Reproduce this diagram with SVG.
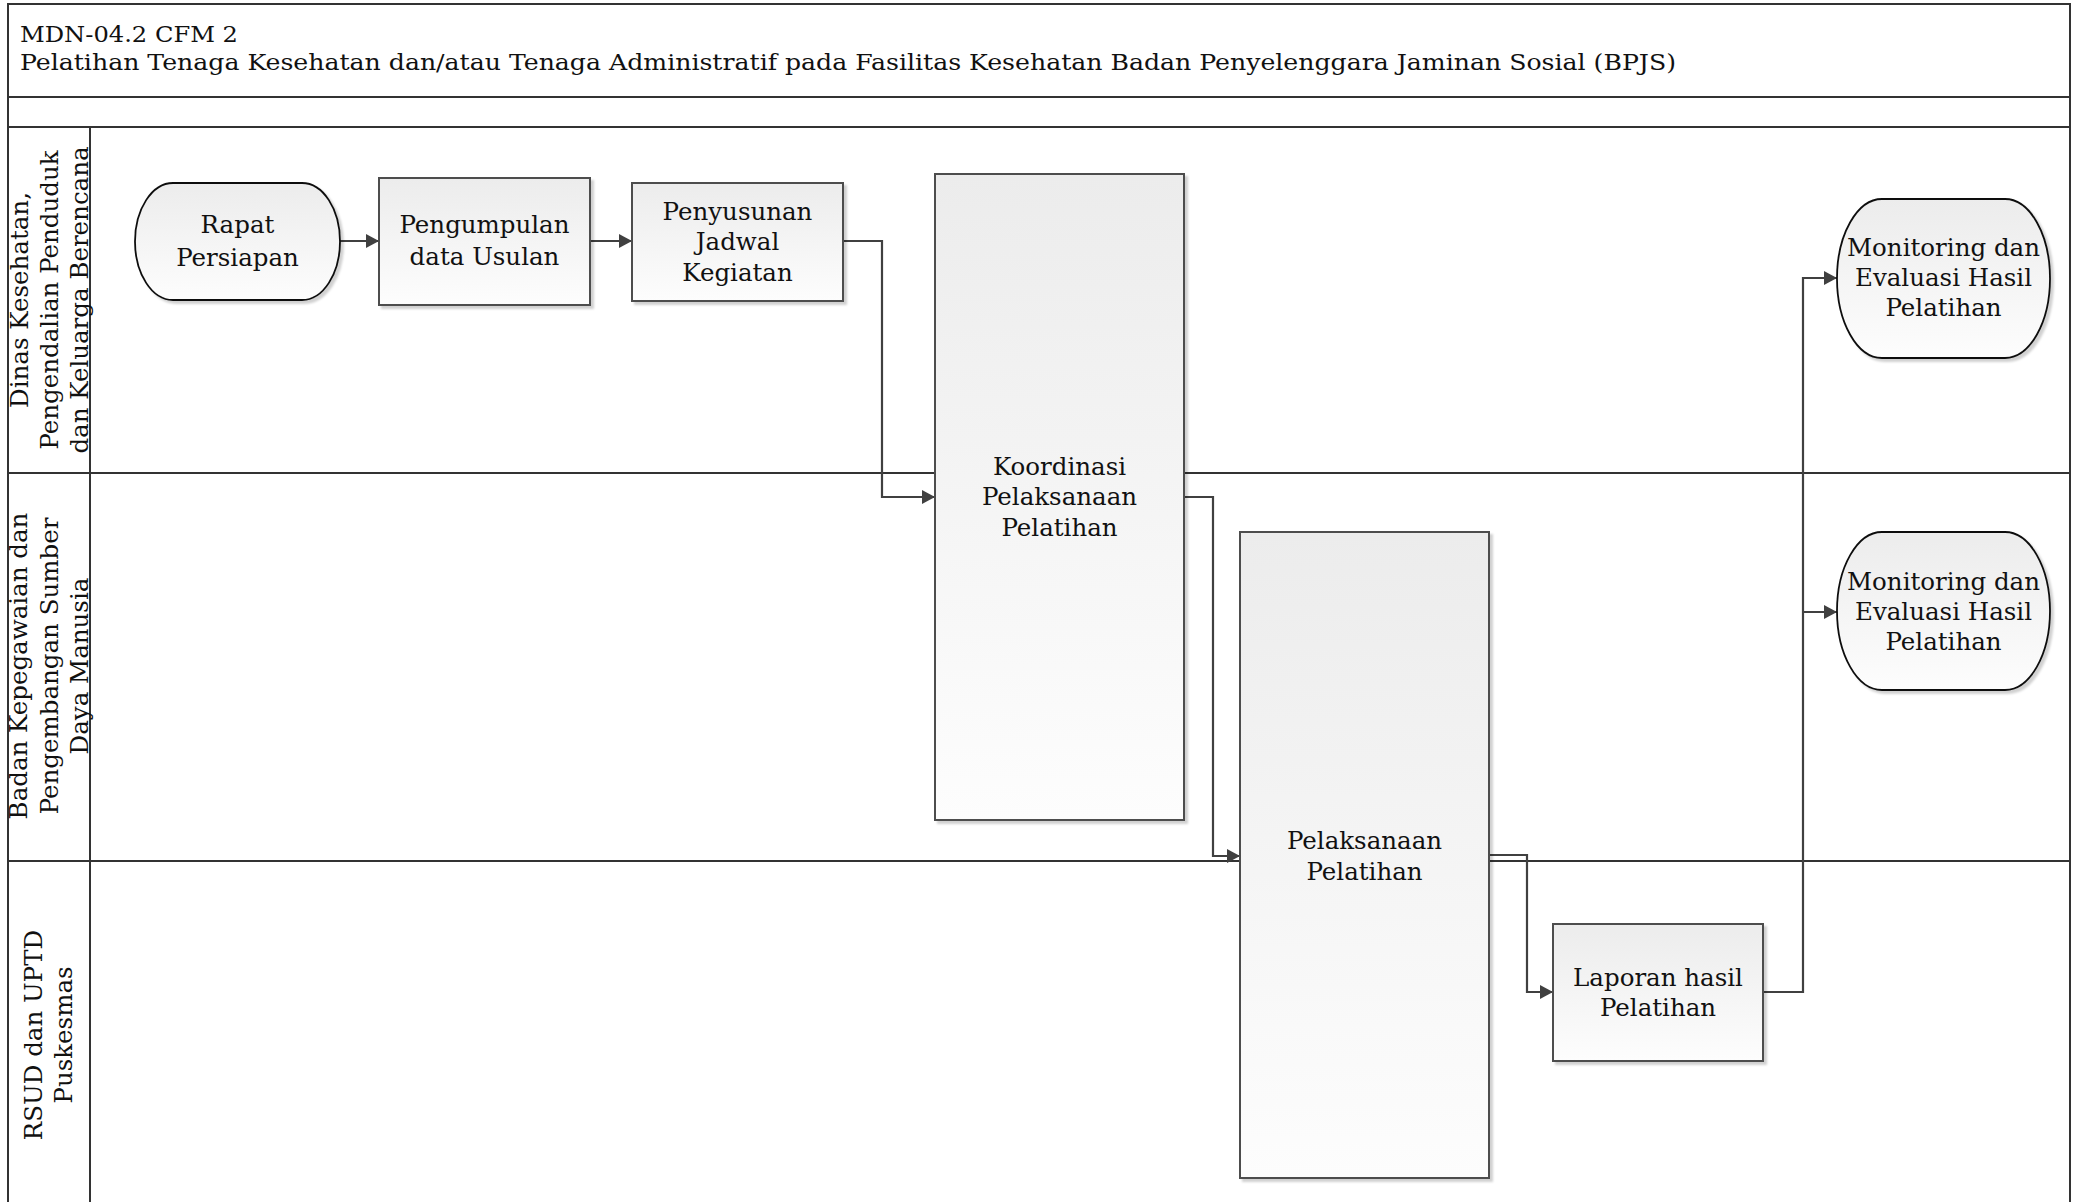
<svg xmlns="http://www.w3.org/2000/svg" width="2079" height="1202" viewBox="0 0 2079 1202">
<style>
  .t { font-family: "DejaVu Serif", "Liberation Serif", serif; font-size: 24.5px; fill: #111; }
  .title { font-family: "DejaVu Serif", "Liberation Serif", serif; font-size: 23px; fill: #111; }
  .ln { stroke: #333; stroke-width: 2; fill: none; }
  .box { fill: url(#gNode); stroke: #4d4d4d; stroke-width: 2; filter: url(#sh); }
  .term { fill: url(#gNode); stroke: #111; stroke-width: 1.8; filter: url(#sh); }
  .con { stroke: #404040; stroke-width: 2.2; fill: none; marker-end: url(#arr); }
</style>
<defs>
  <linearGradient id="gNode" x1="0" y1="0" x2="0" y2="1">
    <stop offset="0" stop-color="#ececec"/>
    <stop offset="1" stop-color="#fdfdfd"/>
  </linearGradient>
  <linearGradient id="gBand" x1="0" y1="0" x2="0" y2="1">
    <stop offset="0" stop-color="#ffffff"/>
    <stop offset="1" stop-color="#e6e6e6"/>
  </linearGradient>
  <linearGradient id="gLane" x1="0" y1="0" x2="1" y2="0">
    <stop offset="0" stop-color="#ffffff"/>
    <stop offset="1" stop-color="#ebebeb"/>
  </linearGradient>
  <filter id="sh" x="-5%" y="-5%" width="115%" height="115%">
    <feDropShadow dx="3" dy="3" stdDeviation="1.2" flood-color="#000" flood-opacity="0.18"/>
  </filter>
  <marker id="arr" markerUnits="userSpaceOnUse" markerWidth="14" markerHeight="14" refX="13" refY="7" orient="auto">
    <path d="M0,0 L13,7 L0,14 z" fill="#404040"/>
  </marker>
</defs>

<g id="frame">
  <rect x="8" y="4" width="2062" height="93" fill="url(#gBand)" class="ln"/>
  <rect x="8" y="97" width="2062" height="30" fill="url(#gBand)" class="ln"/>
  <rect x="8" y="127" width="82" height="1085" fill="url(#gLane)" class="ln"/>
  <rect x="90" y="127" width="1980" height="1085" fill="#ffffff" class="ln"/>
  <line x1="8" y1="473" x2="2070" y2="473" class="ln"/>
  <line x1="8" y1="861" x2="2070" y2="861" class="ln"/>
  <text class="title" x="20" y="42" textLength="218" lengthAdjust="spacingAndGlyphs">MDN-04.2 CFM 2</text>
  <text class="title" x="20" y="70" textLength="1656" lengthAdjust="spacingAndGlyphs">Pelatihan Tenaga Kesehatan dan/atau Tenaga Administratif pada Fasilitas Kesehatan Badan Penyelenggara Jaminan Sosial (BPJS)</text>
</g>

<g id="lane1">
  <text class="t" transform="translate(0,300) rotate(-90)" text-anchor="middle"><tspan x="0" y="28">Dinas Kesehatan,</tspan><tspan x="0" y="58">Pengendalian Penduduk</tspan><tspan x="0" y="88">dan Keluarga Berencana</tspan></text>
</g>
<g id="lane2">
  <text class="t" transform="translate(0,666) rotate(-90)" text-anchor="middle"><tspan x="0" y="27">Badan Kepegawaian dan</tspan><tspan x="0" y="58">Pengembangan Sumber</tspan><tspan x="0" y="88">Daya Manusia</tspan></text>
</g>
<g id="lane3">
  <text class="t" transform="translate(0,1035) rotate(-90)" text-anchor="middle"><tspan x="0" y="42">RSUD dan UPTD</tspan><tspan x="0" y="72">Puskesmas</tspan></text>
</g>

<g id="connectors">
  <path class="con" d="M340,241 H379"/>
  <path class="con" d="M590,241 H632"/>
  <path class="con" d="M843,241 H882 V497 H935"/>
  <path class="con" d="M1184,497 H1213 V856 H1240"/>
  <path class="con" d="M1489,855 H1527 V992 H1553"/>
  <path class="con" d="M1763,992 H1803 V278 H1837"/>
  <path class="con" d="M1803,612 H1837"/>
</g>

<g id="rapat">
  <rect class="term" x="135" y="183" width="205" height="117" rx="38" ry="58.5"/>
  <text class="t" text-anchor="middle"><tspan x="237.5" y="233">Rapat</tspan><tspan x="237.5" y="266">Persiapan</tspan></text>
</g>
<g id="pengumpulan">
  <rect class="box" x="379" y="178" width="211" height="127"/>
  <text class="t" text-anchor="middle"><tspan x="484.5" y="233">Pengumpulan</tspan><tspan x="484.5" y="265">data Usulan</tspan></text>
</g>
<g id="penyusunan">
  <rect class="box" x="632" y="183" width="211" height="118"/>
  <text class="t" text-anchor="middle"><tspan x="737.5" y="220">Penyusunan</tspan><tspan x="737.5" y="250">Jadwal</tspan><tspan x="737.5" y="281">Kegiatan</tspan></text>
</g>
<g id="koordinasi">
  <rect class="box" x="935" y="174" width="249" height="646"/>
  <text class="t" text-anchor="middle"><tspan x="1059.5" y="475">Koordinasi</tspan><tspan x="1059.5" y="505">Pelaksanaan</tspan><tspan x="1059.5" y="536">Pelatihan</tspan></text>
</g>
<g id="pelaksanaan">
  <rect class="box" x="1240" y="532" width="249" height="646"/>
  <text class="t" text-anchor="middle"><tspan x="1364.5" y="849">Pelaksanaan</tspan><tspan x="1364.5" y="880">Pelatihan</tspan></text>
</g>
<g id="laporan">
  <rect class="box" x="1553" y="924" width="210" height="137"/>
  <text class="t" text-anchor="middle"><tspan x="1658" y="986">Laporan hasil</tspan><tspan x="1658" y="1016">Pelatihan</tspan></text>
</g>
<g id="monitoring1">
  <rect class="term" x="1837" y="199" width="213" height="159" rx="45" ry="79.5"/>
  <text class="t" text-anchor="middle"><tspan x="1943.5" y="256">Monitoring dan</tspan><tspan x="1943.5" y="286">Evaluasi Hasil</tspan><tspan x="1943.5" y="316">Pelatihan</tspan></text>
</g>
<g id="monitoring2">
  <rect class="term" x="1837" y="532" width="213" height="158" rx="45" ry="79"/>
  <text class="t" text-anchor="middle"><tspan x="1943.5" y="590">Monitoring dan</tspan><tspan x="1943.5" y="620">Evaluasi Hasil</tspan><tspan x="1943.5" y="650">Pelatihan</tspan></text>
</g>
</svg>
